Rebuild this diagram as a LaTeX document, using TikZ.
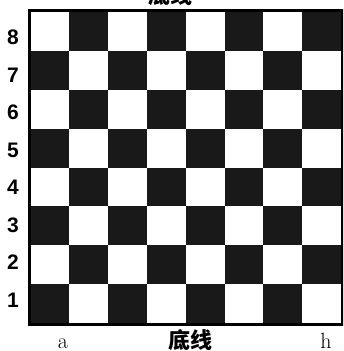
\documentclass[tikz,border=0pt]{standalone}
\usepackage{fontspec}
\setsansfont{Liberation Sans}
\newfontfamily\cjk{Noto Sans CJK SC}
\definecolor{darksq}{gray}{0.1}
\begin{document}
\begin{tikzpicture}[x=1pt,y=-1pt,
  sq/.style={fill=darksq,draw=none},
  rank/.style={font=\sffamily\bfseries\fontsize{21}{21}\selectfont,inner sep=0pt},
  file/.style={font=\fontsize{22}{22}\selectfont,inner sep=0pt,anchor=base},
  edge/.style={font=\cjk\bfseries\fontsize{22}{22}\selectfont,inner sep=0pt,anchor=base}]
\useasboundingbox (0,0) rectangle (343,351);
\clip (0,0) rectangle (343,351);
\def\sz{38.8}
\def\xo{30.6}
\def\yo{12.4}
\foreach \c in {0,...,7}{
  \foreach \r in {0,...,7}{
    \pgfmathtruncatemacro{\odd}{mod(\c+\r,2)}
    \ifnum\odd=1
      \fill[sq] ({\xo+\c*\sz},{\yo+\r*\sz}) rectangle ++(\sz,\sz);
    \fi
  }
}
\draw[line width=3pt] ({\xo-1.5},{\yo-1.5}) rectangle ({\xo+8*\sz+1.5},{\yo+8*\sz+1.5});
\foreach \r [count=\i from 0] in {8,7,6,5,4,3,2,1}{
  \node[rank] (r\r) at (13,{37.5+\i*37.5}) {\r};
}
\node[file] (fa) at (63,348) {a};
\node[file] (fh) at (326,348) {h};
\node[edge] (bottom) at (190,348) {底线};
\node[edge] (top) at (170,3) {底线};
\end{tikzpicture}
\end{document}
